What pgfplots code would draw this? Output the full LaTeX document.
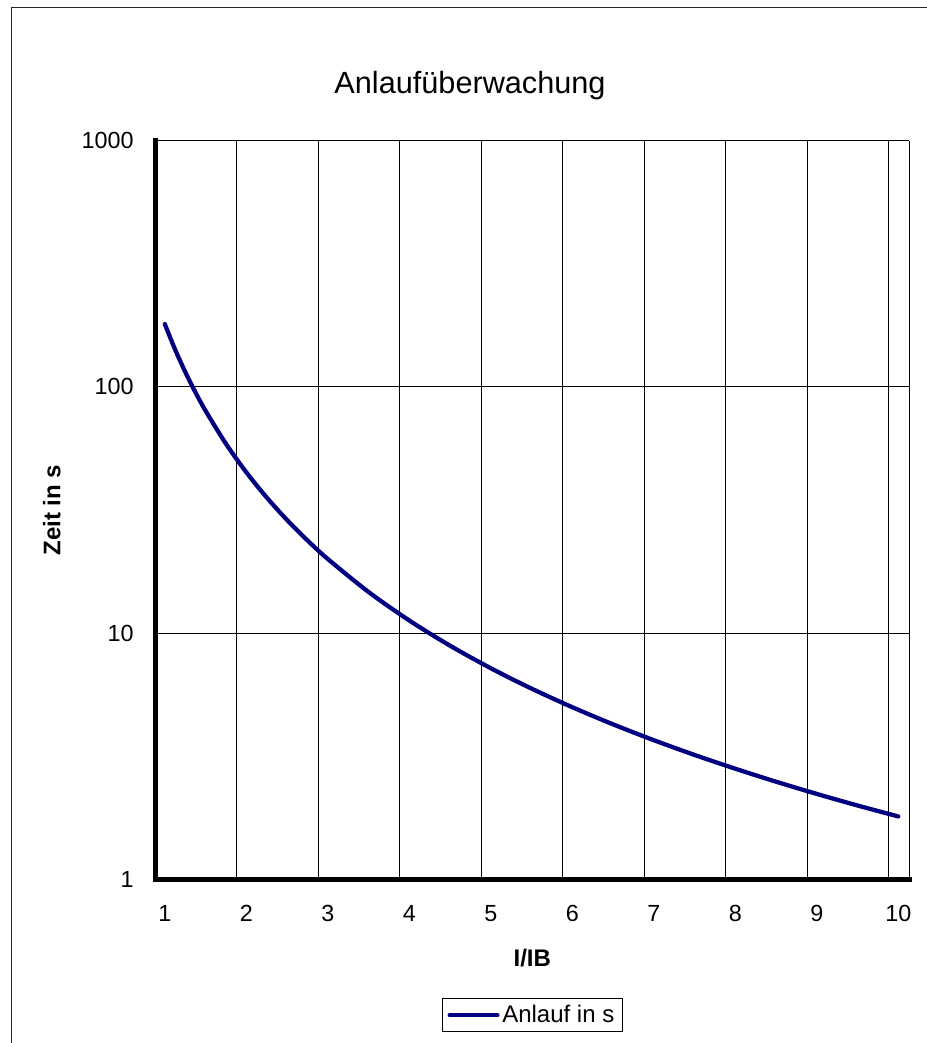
\documentclass[border=0pt]{standalone}
\usepackage{pgfplots}
\pgfplotsset{compat=1.18}
\usepackage{fontspec}
\setmainfont{Liberation Sans}
\definecolor{navyline}{RGB}{0,0,128}
\begin{document}
\begin{tikzpicture}
\path[use as bounding box] (0pt,0pt) rectangle (695.25pt,782.25pt);
\draw[line width=1pt, black!85] (8.6pt,0pt) -- (8.6pt,776.45pt) -- (695.25pt,776.45pt);
\node[anchor=base, font=\fontsize{23}{27}\selectfont] at (352.5pt,711.75pt) {Anlaufüberwachung};
\begin{axis}[
  at={(116.44pt,122.78pt)}, anchor=south west,
  width=565.54pt, height=553.95pt, scale only axis,
  xmin=0.883, xmax=10.135,
  ymode=log, ymin=1, ymax=1000,
  axis lines=left,
  axis line style={line width=3.4pt, -, line cap=rect},
  xtick={1,2,3,4,5,6,7,8,9,10},
  ytick={1,10,100,1000},
  yticklabels={1,10,100,1000},
  major tick length=0pt,
  ymajorgrids=true,
  extra x ticks={1.883,2.883,3.883,4.883,5.883,6.883,7.883,8.883,9.883,10.135},
  extra x tick labels={},
  extra x tick style={grid=major, major tick length=0pt},
  major grid style={black, line width=0.75pt},
  /pgf/number format/assume math mode=true,
  ticklabel style={font=\fontsize{17.5}{21}\selectfont},
  xticklabel style={anchor=north, inner sep=0pt, yshift=-19.3pt},
  yticklabel style={anchor=east, inner sep=0pt, xshift=-16pt},
  xlabel={I/IB},
  ylabel={Zeit in s},
  every axis x label/.style={at={(axis description cs:0.5,0)}, anchor=center, yshift=-59pt,
    font=\bfseries\fontsize{18}{22}\selectfont},
  every axis y label/.style={at={(axis description cs:0,0.5)}, xshift=-77.6pt, rotate=90, anchor=center,
    font=\bfseries\fontsize{18}{22}\selectfont},
  legend style={at={(axis description cs:0.5,0)}, anchor=north, yshift=-89.25pt,
    draw=black, line width=0.75pt, font=\fontsize{18}{22}\selectfont,
    inner xsep=4pt, inner ysep=3pt},
  legend image code/.code={\draw[#1] (0pt,0pt) -- (35.8pt,0pt);},
]
\addplot[navyline, line width=3.2pt, smooth, line cap=round, line join=round] coordinates {
(1,180) (1.125,142.22) (1.25,115.2) (1.375,95.21) (1.5,80) (1.75,58.78) (2,45)
(2.25,35.56) (2.5,28.8) (2.75,23.80) (3,20) (3.5,14.69) (4,11.25) (4.5,8.889)
(5,7.2) (5.5,5.950) (6,5) (6.5,4.260) (7,3.673) (7.5,3.2) (8,2.813) (8.5,2.491)
(9,2.222) (9.5,1.994) (10,1.8)
};
\addlegendentry{Anlauf in s}
\end{axis}
\end{tikzpicture}
\end{document}
